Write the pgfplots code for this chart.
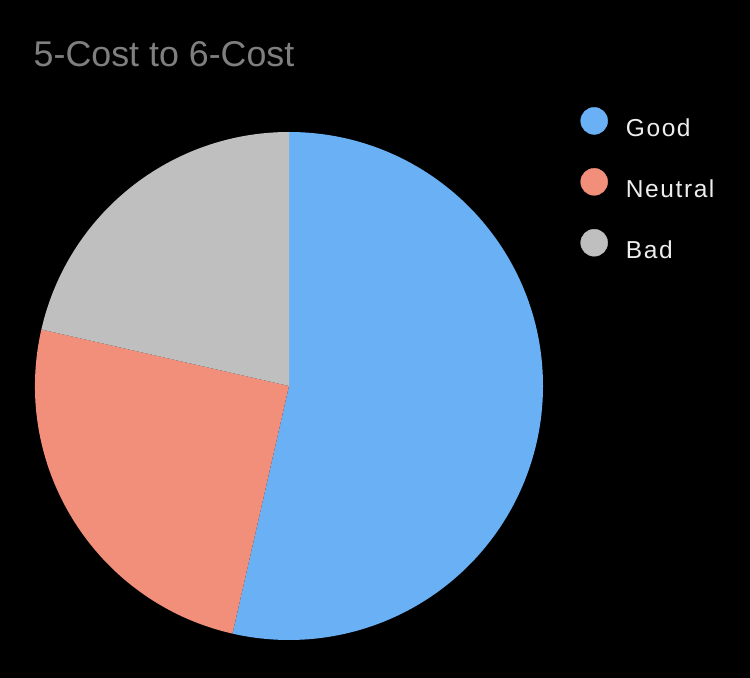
\documentclass[border=0pt]{standalone}
\usepackage{fontspec}
\setmainfont{Liberation Sans}
\usepackage{pgfplots}
\usepackage{pgfplotstable}
\pgfplotsset{compat=1.18}
\definecolor{goodc}{HTML}{6AB0F4}
\definecolor{neutc}{HTML}{F28F7B}
\definecolor{badc}{HTML}{BFBFBF}
\definecolor{titlec}{HTML}{7F7F7F}
\definecolor{legc}{HTML}{EEEEEE}
\pgfplotstableread{
label value
Good 15
Neutral 7
Bad 6
}\piedata
\begin{document}%
\begin{tikzpicture}
\pgfplotstablegetelem{0}{value}\of\piedata \pgfmathsetmacro\vA{\pgfplotsretval}
\pgfplotstablegetelem{1}{value}\of\piedata \pgfmathsetmacro\vB{\pgfplotsretval}
\pgfplotstablegetelem{2}{value}\of\piedata \pgfmathsetmacro\vC{\pgfplotsretval}
\pgfmathsetmacro\vT{\vA+\vB+\vC}
\pgfmathsetmacro\aA{90}
\pgfmathsetmacro\aB{90-360*\vA/\vT}
\pgfmathsetmacro\aC{\aB-360*\vB/\vT}
\pgfmathsetmacro\aD{\aC-360*\vC/\vT}
\fill[black] (0,0) rectangle (750bp,678bp);
\node[anchor=base west, text=titlec, font=\fontsize{35.8bp}{43bp}\selectfont, inner sep=0pt] at (33.5bp,611bp) {5-Cost to 6-Cost};
\begin{axis}[
  at={(35bp,38bp)}, anchor=south west,
  scale only axis, width=508bp, height=508bp,
  xmin=-1, xmax=1, ymin=-1, ymax=1,
  hide axis, clip=false,
  legend style={at={(1.0738,1.0488)}, anchor=north west, draw=none, fill=none,
    inner sep=0pt, outer sep=0pt, row sep=30bp, column sep=18bp,
    nodes={inner sep=0pt, text=legc},
    font=\fontsize{24.5bp}{29bp}\selectfont\addfontfeatures{LetterSpace=6.5}},
  legend cell align=left,
]
\fill[goodc] (axis cs:0,0) -- (axis cs:{cos(\aA)},{sin(\aA)}) arc[start angle=\aA, end angle=\aB, radius=254bp] -- cycle;
\fill[neutc] (axis cs:0,0) -- (axis cs:{cos(\aB)},{sin(\aB)}) arc[start angle=\aB, end angle=\aC, radius=254bp] -- cycle;
\fill[badc] (axis cs:0,0) -- (axis cs:{cos(\aC)},{sin(\aC)}) arc[start angle=\aC, end angle=\aD, radius=254bp] -- cycle;
\addlegendimage{legend image code/.code={\fill[goodc] (13.5bp,7.6bp) circle[radius=13.5bp];}}
\addlegendentry{Good}
\addlegendimage{legend image code/.code={\fill[neutc] (13.5bp,7.6bp) circle[radius=13.5bp];}}
\addlegendentry{Neutral}
\addlegendimage{legend image code/.code={\fill[badc] (13.5bp,7.6bp) circle[radius=13.5bp];}}
\addlegendentry{Bad}
\end{axis}
\pgfresetboundingbox
\path (0,0) rectangle (750bp,678bp);
\end{tikzpicture}%
\end{document}
